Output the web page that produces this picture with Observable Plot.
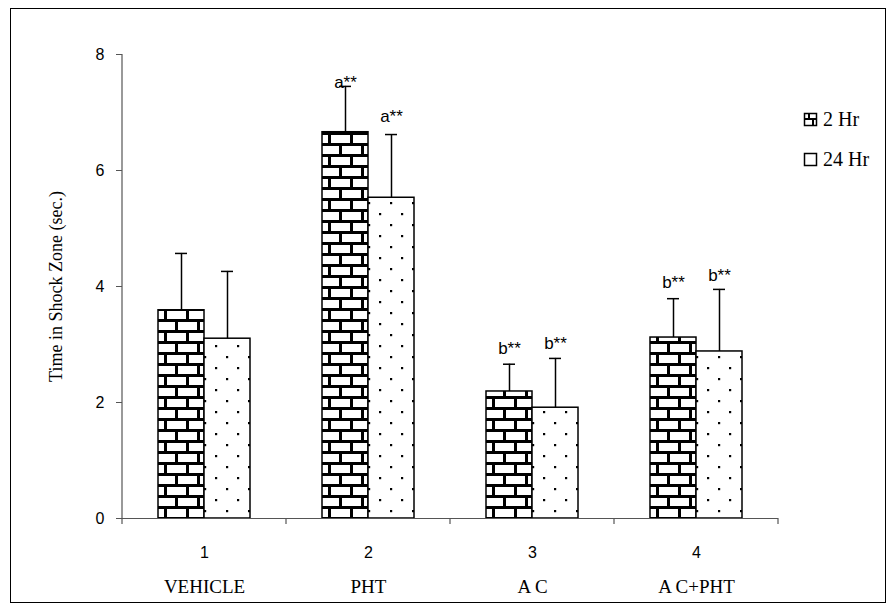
<!DOCTYPE html>
<html><head><meta charset="utf-8">
<script src="https://cdn.jsdelivr.net/npm/d3@7"></script>
<script src="https://cdn.jsdelivr.net/npm/@observablehq/plot@0.6"></script>
<style>
html,body{margin:0;padding:0;background:#fff;}
#wrap{position:relative;width:896px;height:610px;overflow:hidden;}
#chart{position:absolute;left:0;top:0;}
#border{position:absolute;left:10px;top:8px;width:876px;height:595px;border:1px solid #000;box-sizing:border-box;pointer-events:none}
#legend{position:absolute;left:0;top:0;pointer-events:none}
</style></head><body>
<div id="wrap"><div id="chart"></div><div id="border"></div><svg id="legend" width="896" height="610"></svg></div>
<script>
// ---- data ----
const groups = ["1", "2", "3", "4"];
const groupNames = ["VEHICLE", "PHT", "A C", "A C+PHT"];
const series = ["2 Hr", "24 Hr"];
const mean2Hr = [3.59, 6.66, 2.19, 3.12];
const mean24Hr = [3.10, 5.53, 1.91, 2.88];
const sem2Hr = [0.98, 0.79, 0.47, 0.67];
const sem24Hr = [1.16, 1.09, 0.85, 1.07];
const sig2Hr = ["", "a**", "b**", "b**"];
const sig24Hr = ["", "a**", "b**", "b**"];
const sigPos2Hr = [null, 7.43, 2.83, 3.98];
const sigPos24Hr = [null, 6.83, 2.93, 4.09];
const yTicks = [0, 2, 4, 6, 8];
const yLabel = "Time in Shock Zone (sec.)";

// ---- tables ----
const rows = [];
groups.forEach((g, i) => {
  rows.push({group: g, series: "2 Hr", mean: mean2Hr[i], sem: sem2Hr[i], sig: sig2Hr[i], sigPos: sigPos2Hr[i]});
  rows.push({group: g, series: "24 Hr", mean: mean24Hr[i], sem: sem24Hr[i], sig: sig24Hr[i], sigPos: sigPos24Hr[i]});
});
const groupRows = groups.map((g, i) => ({group: g, name: groupNames[i]}));

const sans = '"Liberation Sans", Arial, sans-serif';
const serif = '"Liberation Serif", "Times New Roman", serif';

const plot = Plot.plot({
  width: 896, height: 610,
  marginLeft: 120, marginRight: 117, marginTop: 54, marginBottom: 92,
  style: {fontFamily: sans, fontSize: "16px", color: "#000", background: "transparent", overflow: "visible"},
  fx: {domain: groups, padding: 0, axis: null},
  x: {domain: series, paddingInner: 0, paddingOuter: 0.753, axis: null},
  y: {domain: [0, 8], axis: null},
  marks: [
    Plot.barY(rows.filter(d => d.series === "2 Hr"), {fx: "group", x: "series", y: "mean", fill: "url(#brick)", stroke: "#000", strokeWidth: 1.5}),
    Plot.barY(rows.filter(d => d.series === "24 Hr"), {fx: "group", x: "series", y: "mean", fill: "url(#dots)", stroke: "#000", strokeWidth: 1.5}),
    Plot.ruleX(rows, {fx: "group", x: "series", y1: "mean", y2: d => d.mean + d.sem, stroke: "#000", strokeWidth: 1.5}),
    Plot.tickY(rows, {fx: "group", x: "series", y: d => d.mean + d.sem, stroke: "#000", strokeWidth: 1.5, insetLeft: 17, insetRight: 17}),
    Plot.text(rows.filter(d => d.sig), {fx: "group", x: "series", y: "sigPos", text: "sig", lineAnchor: "bottom", fontSize: 17, fontFamily: sans}),
    Plot.axisY(yTicks, {tickSize: 6, tickPadding: 12, fontSize: 16, stroke: "#555", label: null, tickFormat: d3.format("d")}),
    Plot.ruleY([0], {stroke: "#555", strokeWidth: 1.2}),
    Plot.text(groupRows, {fx: "group", frameAnchor: "bottom", dy: 39, text: "group", lineAnchor: "bottom", fontSize: 16, fontFamily: sans}),
    Plot.text(groupRows, {fx: "group", frameAnchor: "bottom", dy: 74, text: "name", lineAnchor: "bottom", fontSize: 19, fontFamily: serif}),
    Plot.text([groupRows[0]], {fx: "group", frameAnchor: "left", dx: -61, text: () => yLabel, rotate: -90, textAnchor: "middle", lineAnchor: "bottom", fontSize: 18, fontFamily: serif})
  ]
});

document.getElementById("chart").appendChild(plot);

// patterns
const svg = d3.select(plot);
const defs = svg.insert("defs", ":first-child");
const brick = defs.append("pattern").attr("id", "brick").attr("patternUnits", "userSpaceOnUse").attr("width", 22).attr("height", 22);
brick.append("rect").attr("width", 22).attr("height", 22).attr("fill", "#fff");
brick.append("rect").attr("x", 0).attr("y", 0).attr("width", 22).attr("height", 3).attr("fill", "#000");
brick.append("rect").attr("x", 0).attr("y", 11).attr("width", 22).attr("height", 3).attr("fill", "#000");
brick.append("rect").attr("x", 8).attr("y", 0).attr("width", 3).attr("height", 11).attr("fill", "#000");
brick.append("rect").attr("x", 19).attr("y", 11).attr("width", 3).attr("height", 11).attr("fill", "#000");
const dots = defs.append("pattern").attr("id", "dots").attr("patternUnits", "userSpaceOnUse").attr("width", 22).attr("height", 22);
dots.append("rect").attr("width", 22).attr("height", 22).attr("fill", "#fff");
dots.append("rect").attr("x", 4).attr("y", 4).attr("width", 2.2).attr("height", 2.2).attr("fill", "#000");
dots.append("rect").attr("x", 15).attr("y", 15).attr("width", 2.2).attr("height", 2.2).attr("fill", "#000");

// axis lines & category boundary ticks from the library's scales
const fx = plot.scale("fx"), y = plot.scale("y");
const xs = groups.map(g => fx.apply(g));
const xEnd = xs[xs.length - 1] + fx.bandwidth;
const y0 = y.apply(0), yTop = y.apply(8);
const axisG = svg.append("g").attr("stroke", "#555").attr("stroke-width", 1.2);
axisG.append("line").attr("x1", xs[0]).attr("x2", xs[0]).attr("y1", yTop).attr("y2", y0);
[...xs, xEnd].forEach(x => axisG.append("line").attr("x1", x).attr("x2", x).attr("y1", y0).attr("y2", y0 + 6));

// legend
const leg = d3.select("#legend");
const ldefs = leg.append("defs");
const lb = ldefs.append("pattern").attr("id", "lbrick").attr("patternUnits", "userSpaceOnUse").attr("width", 12).attr("height", 12).attr("x", 804).attr("y", 113);
lb.append("rect").attr("width", 12).attr("height", 12).attr("fill", "#fff");
lb.append("rect").attr("x", 0).attr("y", 5).attr("width", 12).attr("height", 2).attr("fill", "#000");
lb.append("rect").attr("x", 4).attr("y", 0).attr("width", 2).attr("height", 6).attr("fill", "#000");
lb.append("rect").attr("x", 8).attr("y", 6).attr("width", 2).attr("height", 6).attr("fill", "#000");
const legendItems = [{label: series[0], fill: "url(#lbrick)", yb: 126}, {label: series[1], fill: "#fff", yb: 166}];
legendItems.forEach(it => {
  leg.append("rect").attr("x", 804.5).attr("y", it.yb - 12.5).attr("width", 12).attr("height", 12).attr("fill", it.fill).attr("stroke", "#000").attr("stroke-width", 1.5);
  leg.append("text").attr("x", 823).attr("y", it.yb).attr("font-family", serif).attr("font-size", 20).text(it.label);
});
</script>
</body></html>
